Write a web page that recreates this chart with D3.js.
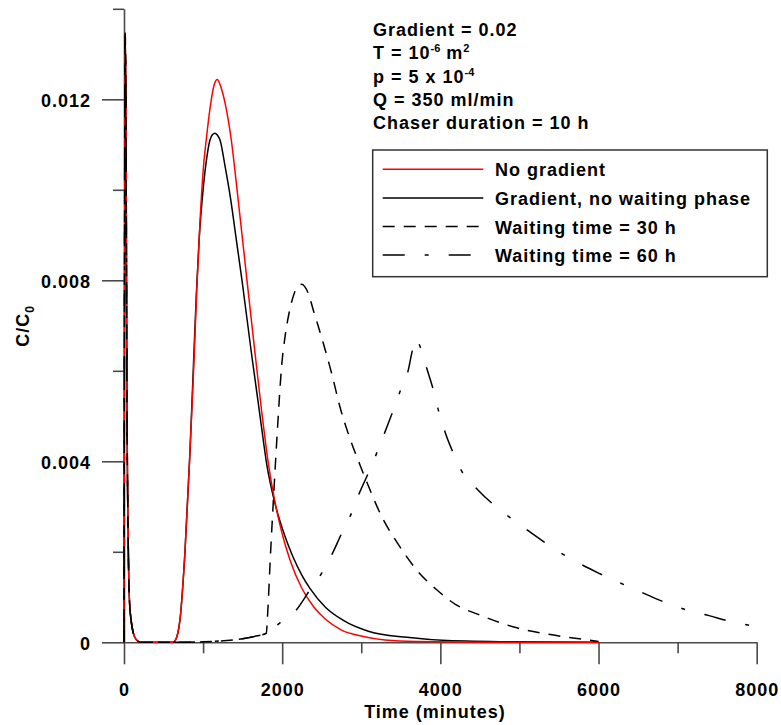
<!DOCTYPE html>
<html>
<head>
<meta charset="utf-8">
<script src="https://cdn.jsdelivr.net/npm/d3@7"></script>
<style>
  html, body { margin: 0; padding: 0; background: #fff; }
  svg text {
    font-family: "Liberation Sans", Arial, Helvetica, sans-serif;
    font-weight: bold;
    font-size: 18px;
    letter-spacing: 1px;
    fill: #000;
  }
</style>
</head>
<body>
<svg id="chart" width="781" height="725"></svg>
<script>
// ---- Axis ticks ----
const xMajorTicks = [0, 2000, 4000, 6000, 8000];
const xMinorTicks = [1000, 3000, 5000, 7000];
const yMajorTicks = [0, 0.004, 0.008, 0.012];
const yMinorTicks = [0.002, 0.006, 0.010, 0.014];
const yTickLabels = ["0", "0.004", "0.008", "0.012"];

// ---- Shared injection pulse at the start of every run (time in minutes, C/C0) ----
const pulseTime = [0, 15, 24, 32, 40, 48, 55, 67, 89, 118, 160, 210, 620];
const pulseConc = [0, 0.01346, 0.0120, 0.0080, 0.0045, 0.0030, 0.0020, 0.0010, 0.0005, 0.0002, 0.00005, 0, 0];

// ---- No gradient ----
const noGradTime = [645, 708, 771, 834, 880, 920, 961, 1000, 1046, 1100, 1140, 1180, 1220, 1280, 1349, 1436,
  1555, 1656, 1741, 1821, 1909, 2000, 2099, 2247, 2400, 2541, 2750, 3026, 3300, 3700, 4500, 6000];
const noGradConc = [0.00003, 0.0005, 0.002, 0.0042, 0.006, 0.0078, 0.0093, 0.0104, 0.0112, 0.01195, 0.01232, 0.01244,
  0.0123, 0.0119, 0.0112, 0.0099, 0.0080, 0.0064, 0.0051, 0.0040, 0.0031, 0.0024, 0.00182, 0.0012, 0.00078,
  0.00052, 0.00027, 0.00013, 0.00005, 0.000015, 0.000003, 0];

// ---- Gradient, no waiting phase ----
const gradTime = [645, 708, 771, 834, 880, 915, 950, 1000, 1046, 1087, 1120, 1150, 1180, 1214, 1280, 1348, 1420,
  1492, 1606, 1720, 1808, 1909, 2030, 2136, 2250, 2351, 2550, 2768, 3100, 3577, 4084, 5000, 6000];
const gradConc = [0.00003, 0.0005, 0.002, 0.0042, 0.0062, 0.0077, 0.0089, 0.0100, 0.0107, 0.0111, 0.01122, 0.01125,
  0.01121, 0.0111, 0.0105, 0.0098, 0.0089, 0.0080, 0.00646, 0.0050, 0.0039, 0.00307, 0.00237, 0.00189, 0.00148,
  0.00119, 0.00077, 0.00049, 0.00024, 0.00011, 0.00004, 0.00001, 0];

// ---- Slow build-up shared by both waiting runs ----
const restTime = [1000, 1300, 1500, 1650, 1800];
const restConc = [0.00001, 0.00004, 0.00008, 0.00013, 0.0002];

// ---- Waiting time = 30 h ----
const wait30Time = [1812, 1854, 1897, 1940, 1993, 2040, 2090, 2141, 2190, 2247, 2290, 2331, 2394, 2520, 2626, 2731,
  2858, 2984, 3110, 3258, 3448, 3700, 3954, 4190, 4519, 4955, 5390, 5826, 6000];
const wait30Conc = [0.0005, 0.002, 0.0034, 0.0047, 0.0061, 0.0068, 0.0073, 0.00765, 0.00785, 0.00791, 0.00785, 0.00771,
  0.00734, 0.00661, 0.00594, 0.0052, 0.0045, 0.00392, 0.00337, 0.00278, 0.00222, 0.0016, 0.00116, 0.00084,
  0.00059, 0.000325, 0.000172, 0.00006, 0.00002];

// ---- Waiting time = 60 h ----
const wait60Time = [1972, 2162, 2352, 2500, 2626, 2753, 2858, 2984, 3069, 3195, 3300, 3405, 3490, 3595, 3640, 3688,
  3745, 3827, 3911, 3975, 4059, 4164, 4248, 4472, 4783, 5133, 5500, 6000, 6500, 6873, 7131, 7397, 7680, 7960];
const wait60Conc = [0.00043, 0.00068, 0.00116, 0.00153, 0.00193, 0.00241, 0.00278, 0.00333, 0.00366, 0.00418, 0.00465,
  0.00513, 0.00554, 0.00602, 0.0064, 0.00672, 0.00653, 0.00606, 0.00558, 0.00513, 0.00465, 0.00418, 0.00385,
  0.00337, 0.00289, 0.00244, 0.0020, 0.00153, 0.00114, 0.00086, 0.000705, 0.000589, 0.000453, 0.000362];

const seriesNames = ["No gradient", "Gradient, no waiting phase", "Waiting time = 30 h", "Waiting time = 60 h"];

// Parameter notes shown above the legend (segments flagged sup are superscripts)
const noteLines = [
  [{ t: "Gradient = 0.02" }],
  [{ t: "T = 10" }, { t: "-6", sup: true }, { t: " m" }, { t: "2", sup: true }],
  [{ t: "p = 5 x 10" }, { t: "-4", sup: true }],
  [{ t: "Q = 350 ml/min" }],
  [{ t: "Chaser duration = 10 h" }]
];

// ---- Build point lists ----
const zip = (ts, cs) => ts.map((t, i) => [t, cs[i]]);
const pulse = zip(pulseTime, pulseConc);
const rest = zip(restTime, restConc);
const seriesData = [
  pulse.concat(zip(noGradTime, noGradConc)),
  pulse.concat(zip(gradTime, gradConc)),
  pulse.concat(rest, zip(wait30Time, wait30Conc)),
  pulse.concat(rest, zip(wait60Time, wait60Conc))
];

// Line styles per series
const seriesStyle = [
  { color: "#ff0000", dash: null },
  { color: "#000000", dash: null },
  { color: "#000000", dash: "12,9" },
  { color: "#000000", dash: "22,20,4,20" }
];

// ---- Scales ----
const svg = d3.select("#chart");
const x = d3.scaleLinear().domain([0, 8000]).range([124, 756.7]);
const y = d3.scaleLinear().domain([0, 0.014]).range([642.3, 8.8]);
const axisColor = "#4a4a4a";

// ---- Axes ----
const gxMinor = svg.append("g")
  .attr("transform", `translate(0,${y(0)})`)
  .style("color", axisColor)
  .call(d3.axisBottom(x).tickValues(xMinorTicks).tickSize(11).tickSizeOuter(0).tickFormat(""));
gxMinor.select(".domain").remove();

const gx = svg.append("g")
  .attr("transform", `translate(0,${y(0)})`)
  .style("color", axisColor)
  .call(d3.axisBottom(x).tickValues(xMajorTicks).tickSize(22).tickSizeOuter(0)
    .tickPadding(19).tickFormat(d3.format("d")));

const gyMinor = svg.append("g")
  .attr("transform", `translate(${x(0)},0)`)
  .style("color", axisColor)
  .call(d3.axisLeft(y).tickValues(yMinorTicks).tickSize(11).tickSizeOuter(0).tickFormat(""));
gyMinor.select(".domain").remove();

const gy = svg.append("g")
  .attr("transform", `translate(${x(0)},0)`)
  .style("color", axisColor)
  .call(d3.axisLeft(y).tickValues(yMajorTicks).tickSize(22).tickSizeOuter(0)
    .tickPadding(11).tickFormat((d, i) => yTickLabels[i]));
gy.selectAll(".tick text").attr("dy", "0.4em");

svg.selectAll(".domain, .tick line").attr("stroke-width", 1.6);
svg.selectAll("g").attr("font-size", null).attr("font-family", null);

// Axis titles
svg.append("text")
  .attr("x", 435).attr("y", 718)
  .attr("text-anchor", "middle")
  .text("Time (minutes)");

const yTitle = svg.append("text")
  .attr("transform", "translate(29,326) rotate(-90)")
  .attr("text-anchor", "middle");
yTitle.append("tspan").text("C/C");
yTitle.append("tspan").attr("dy", 5).style("font-size", "12px").text("0");

// ---- Curves ----
const line = d3.line()
  .x(d => x(d[0]))
  .y(d => y(d[1]))
  .curve(d3.curveMonotoneX);

const drawOrder = [1, 0, 2, 3];
drawOrder.forEach(i => {
  svg.append("path")
    .datum(seriesData[i])
    .attr("fill", "none")
    .attr("stroke", seriesStyle[i].color)
    .attr("stroke-width", 1.5)
    .attr("stroke-dasharray", seriesStyle[i].dash)
    .attr("d", line);
});

// ---- Parameter notes ----
noteLines.forEach((segs, i) => {
  const t = svg.append("text").attr("x", 373).attr("y", 36 + i * 23.3);
  let shift = 0;
  segs.forEach(s => {
    const target = s.sup ? -7 : 0;
    const ts = t.append("tspan").attr("dy", target - shift).text(s.t);
    if (s.sup) ts.style("font-size", "11px").style("letter-spacing", "0px");
    shift = target;
  });
});

// ---- Legend ----
const legend = svg.append("g");
legend.append("rect")
  .attr("x", 372.7).attr("y", 150)
  .attr("width", 394.6).attr("height", 126.7)
  .attr("fill", "#fff")
  .attr("stroke", "#333").attr("stroke-width", 1.5);

seriesNames.forEach((name, i) => {
  const cy = 169.3 + i * 28.6;
  legend.append("line")
    .attr("x1", 382.7).attr("x2", 483.3)
    .attr("y1", cy).attr("y2", cy)
    .attr("stroke", seriesStyle[i].color)
    .attr("stroke-width", 1.5)
    .attr("stroke-dasharray", seriesStyle[i].dash);
  legend.append("text")
    .attr("x", 495).attr("y", cy + 7)
    .text(name);
});
</script>
</body>
</html>
